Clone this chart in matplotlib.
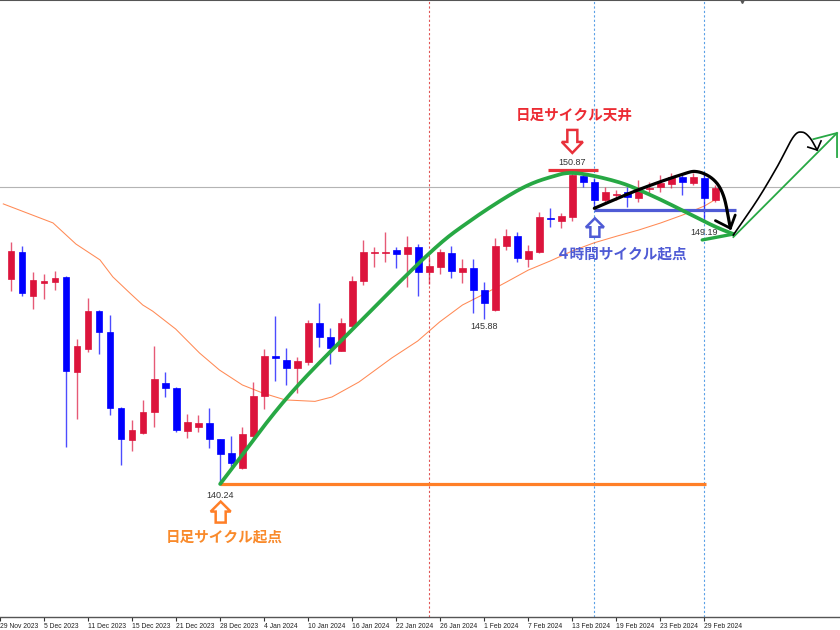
import numpy as np
import matplotlib
matplotlib.use("Agg")
import matplotlib.pyplot as plt
from matplotlib.patches import Polygon
from matplotlib import transforms as mtransforms

# ---------------- data ----------------
tick_labels = ["29 Nov 2023", "5 Dec 2023", "11 Dec 2023", "15 Dec 2023", "21 Dec 2023",
               "28 Dec 2023", "4 Jan 2024", "10 Jan 2024", "16 Jan 2024", "22 Jan 2024",
               "26 Jan 2024", "1 Feb 2024", "7 Feb 2024", "13 Feb 2024", "19 Feb 2024",
               "23 Feb 2024", "29 Feb 2024"]

opens = [147.24, 148.16, 146.66, 147.11, 147.13, 147.32, 144.05, 144.85, 146.14, 145.43,
         142.82, 141.74, 141.98, 142.69, 143.68, 143.52, 142.06, 142.19, 142.33, 141.77,
         141.29, 140.78, 141.89, 143.24, 144.61, 144.47, 144.19, 144.41, 145.72, 145.25,
         144.79, 145.63, 147.18, 148.13, 148.12, 148.22, 148.08, 148.32, 147.49, 147.66,
         148.11, 147.49, 147.60, 146.86, 146.18, 148.36, 148.72, 147.92, 148.15, 149.33,
         149.23, 149.36, 150.75, 150.56, 149.93, 150.09, 150.22, 149.99, 150.30, 150.37,
         150.48, 150.73, 150.50, 150.70, 149.93]
highs = [148.51, 148.36, 147.47, 147.40, 147.51, 147.34, 145.20, 146.59, 146.17, 146.00,
         142.88, 142.42, 143.11, 144.95, 144.06, 143.54, 142.62, 142.59, 142.82, 141.78,
         141.88, 142.18, 143.73, 144.84, 145.97, 144.89, 144.57, 145.84, 146.43, 145.55,
         145.92, 147.34, 148.57, 148.34, 148.84, 148.33, 148.72, 148.42, 148.00, 148.25,
         148.38, 147.93, 147.91, 147.13, 148.63, 148.93, 148.84, 148.40, 149.53, 149.65,
         149.50, 150.87, 150.85, 150.67, 150.37, 150.27, 150.37, 150.62, 150.56, 150.79,
         150.84, 150.80, 150.84, 150.82, 150.44]
lows = [146.83, 146.66, 146.22, 146.55, 146.87, 141.51, 142.45, 144.76, 144.68, 142.58,
        140.89, 141.37, 141.95, 142.18, 143.22, 142.00, 141.80, 142.02, 141.48, 140.24,
        140.83, 140.76, 141.74, 142.80, 143.77, 143.62, 143.34, 144.30, 144.91, 144.33,
        144.77, 145.55, 147.03, 147.66, 147.83, 147.61, 146.98, 146.64, 147.07, 147.40,
        147.26, 147.11, 146.08, 145.88, 146.16, 148.23, 147.83, 147.66, 148.11, 149.02,
        148.97, 149.23, 150.37, 149.66, 149.87, 149.93, 149.70, 149.87, 150.10, 150.22,
        150.33, 150.10, 150.44, 149.19, 149.87]
closes = [148.19, 146.77, 147.19, 147.16, 147.28, 144.10, 144.94, 146.14, 145.42, 142.82,
          141.79, 142.08, 142.70, 143.81, 143.51, 142.08, 142.36, 142.33, 141.77, 141.26,
          140.95, 141.94, 143.25, 144.61, 144.54, 144.19, 144.44, 145.75, 145.25, 144.87,
          145.72, 147.18, 148.17, 148.17, 148.16, 148.08, 148.32, 147.49, 147.68, 148.15,
          147.50, 147.61, 146.86, 146.42, 148.35, 148.69, 147.94, 148.19, 149.34, 149.29,
          149.39, 150.80, 150.56, 149.93, 150.22, 150.12, 150.05, 150.25, 150.35, 150.50,
          150.73, 150.54, 150.72, 149.99, 150.36]

ma_bars = [0.30, 4.82, 6.90, 9.08, 10.25, 11.79, 12.97, 13.87, 15.96, 18.13, 19.94, 22.02,
           23.83, 25.91, 28.62, 30.16, 32.61, 35.59, 37.95, 39.94, 42.02, 44.01, 46.0,
           47.99, 49.98, 51.97, 53.96, 56.04, 58.04, 60.03, 62.02, 64.01, 65.09]
ma_vals = [149.80, 149.15, 148.43, 147.89, 147.31, 146.76, 146.35, 146.14, 145.53, 144.71,
           144.13, 143.62, 143.35, 143.11, 143.06, 143.21, 143.72, 144.54, 145.12, 145.77,
           146.35, 146.73, 147.13, 147.54, 147.85, 148.19, 148.47, 148.70, 148.91, 149.15,
           149.42, 149.73, 149.97]

current_price = 150.37
daily_start = 140.24
daily_top = 150.87
low_feb1 = 145.88
low_feb29 = 149.19
h4_start = 149.59

# annotation curves (bar, price)
arc_bars = [20.0, 25.91, 31.97, 38.94, 42.56, 47.09, 50.07, 52.33, 56.14, 59.12, 62.11, 64.83, 66.63]
arc_vals = [140.24, 143.11, 145.50, 148.09, 149.18, 150.27, 150.72, 150.85, 150.55, 150.10, 149.56, 149.05, 148.77]
black_bars = [54.0, 57.92, 61.84, 63.35, 64.85, 65.76, 66.36]
black_vals = [149.65, 150.27, 150.79, 150.90, 150.62, 150.05, 148.97]
thin_bars = [66.63, 68.8, 70.6, 72.07, 72.88, 73.6, 74.24]
thin_vals = [148.74, 149.93, 151.06, 152.08, 152.25, 152.05, 151.64]

RED = "#DC143C"
BLUE = "#0000FF"
ORANGE = "#FF7F27"
GREEN = "#27A844"
IND = "#4F5BD5"
TXTRED = "#EC2B33"

plt.rcParams['font.family'] = ['Noto Sans CJK JP', 'DejaVu Sans']


def catmull(xs, ys, n=24):
    P = np.column_stack([xs, ys]).astype(float)
    P = np.vstack([P[0] - (P[1] - P[0]), P, P[-1] + (P[-1] - P[-2])])
    out = []
    for i in range(1, len(P) - 2):
        p0, p1, p2, p3 = P[i - 1], P[i], P[i + 1], P[i + 2]
        t = np.linspace(0, 1, n, endpoint=(i == len(P) - 3))[:, None]
        seg = 0.5 * ((2 * p1) + (-p0 + p2) * t + (2 * p0 - 5 * p1 + 4 * p2 - p3) * t ** 2
                     + (-p0 + 3 * p1 - 3 * p2 + p3) * t ** 3)
        out.append(seg)
    out = np.vstack(out)
    return out[:, 0], out[:, 1]


fig = plt.figure(figsize=(8.4, 6.3), dpi=100)
ax = fig.add_axes([0, 13 / 630, 1, 617 / 630])
ax.set_xlim(0.30, 76.32)
ax.set_ylim(135.70, 156.76)

x = np.arange(1, len(opens) + 1)
o = np.array(opens); h = np.array(highs); l = np.array(lows); c = np.array(closes)
cols = [RED if cc >= oo else BLUE for oo, cc in zip(o, c)]

# vertical separators
ax.axvline(39, color="#E05555", lw=0.8, ls=(0, (2, 2)), zorder=1)
for b in (54, 64):
    ax.axvline(b, color="#5AA0E6", lw=0.8, ls=(0, (2, 2)), zorder=1)

# current price line
ax.axhline(current_price, color="#B4B4B4", lw=0.8, zorder=1)

# MA
ax.plot(ma_bars, ma_vals, color="#FF8A55", lw=0.75, zorder=2)

# candles
ax.vlines(x, l, h, colors=cols, lw=1.0, alpha=0.7, zorder=3)
heights = np.maximum(np.abs(c - o), 0.035)
bottoms = np.minimum(o, c)
ax.bar(x, heights, bottom=bottoms, width=0.62, color=cols, edgecolor=cols, linewidth=0.5, zorder=4)

# horizontal annotation lines
ax.plot([20, 64.1], [daily_start, daily_start], color=ORANGE, lw=2.3, solid_capstyle='butt', zorder=5)
ax.plot([49.8, 54.3], [150.96, 150.96], color="#E8303A", lw=2.3, solid_capstyle='butt', zorder=5)
ax.plot([54.0, 66.9], [h4_start, h4_start], color=IND, lw=2.3, solid_capstyle='butt', zorder=5)

# green arc
gx, gy = catmull(arc_bars, arc_vals)
ax.plot(gx, gy, color=GREEN, lw=2.7, solid_capstyle='round', zorder=6)
ax.plot([63.8, 66.63], [148.57, 148.77], color=GREEN, lw=2.4, solid_capstyle='round', zorder=6)

# black thick curve
bx, by = catmull(black_bars, black_vals)
ax.plot(bx, by, color="black", lw=2.3, solid_capstyle='round', zorder=7)
ax.plot([65.0, 66.36, 66.8], [149.23, 148.97, 149.42], color="black", lw=2.0, solid_capstyle='round', zorder=7)

# thin green line and arrowhead
ax.plot([66.63, 76.05], [148.67, 152.22], color=GREEN, lw=1.3, zorder=6)
ax.plot([73.9, 76.05, 76.05], [152.01, 152.22, 151.40], color=GREEN, lw=1.3, zorder=6)

# thin black curve
tx, ty = catmull(thin_bars, thin_vals)
ax.plot(tx, ty, color="black", lw=1.2, zorder=7)
ax.plot([73.4, 74.24, 74.6], [151.74, 151.64, 151.95], color="black", lw=1.2, zorder=7)


def block_arrow(xd, yd, up, color, hw, hh, sw, total, lw=1.8):
    s = 1 if up else -1
    verts = [(0, 0), (hw, -s * hh), (sw, -s * hh), (sw, -s * total),
             (-sw, -s * total), (-sw, -s * hh), (-hw, -s * hh)]
    tr = (mtransforms.Affine2D().scale(0.01) + fig.dpi_scale_trans
          + mtransforms.ScaledTranslation(xd, yd, ax.transData))
    p = Polygon(verts, closed=True, facecolor="white", edgecolor=color, lw=lw,
                joinstyle='miter', transform=tr, zorder=8)
    ax.add_patch(p)


block_arrow(20.05, 139.64, True, ORANGE, 10, 10, 5, 21)
block_arrow(52.0, 151.54, False, "#E8303A", 10.5, 11, 5, 23)
block_arrow(54.05, 149.31, True, IND, 9, 9, 4.5, 18.5)

# texts
ax.text(20.36, 138.44, "日足サイクル起点", color="#F98A2B", fontsize=10.5, fontweight='bold',
        ha='center', va='center', zorder=9)
ax.text(52.18, 152.83, "日足サイクル天井", color=TXTRED, fontsize=10.5, fontweight='bold',
        ha='center', va='center', zorder=9)
ax.text(56.5, 148.11, "４時間サイクル起点", color=IND, fontsize=10.5, fontweight='bold',
        ha='center', va='center', zorder=9)

lab_kw = dict(fontsize=6.5, color="#333333", ha='center', va='center', family='Liberation Sans', zorder=9)
ax.text(19.98, 139.86, f"{daily_start:.2f}", **lab_kw)
ax.text(52.02, 151.20, f"{daily_top:.2f}", **lab_kw)
ax.text(44.0, 145.60, f"{low_feb1:.2f}", **lab_kw)
ax.text(64.0, 148.84, f"{low_feb29:.2f}", **lab_kw)

# shift marker at top
ax.plot([67.4], [1.0], marker='v', ms=5, color="#555555", transform=ax.get_xaxis_transform(),
        clip_on=False, zorder=9)

# axes styling
for side in ("left", "right"):
    ax.spines[side].set_visible(False)
ax.spines["top"].set_color("#555555")
ax.spines["top"].set_linewidth(1.5)
ax.spines["bottom"].set_color("#555555")
ax.spines["bottom"].set_linewidth(1.0)
ax.set_yticks([])
ax.set_xticks(np.arange(0, 4 * len(tick_labels), 4))
ax.set_xticklabels(tick_labels, ha='left', fontsize=4.9, family='Liberation Sans', color='#222222')
ax.tick_params(axis='x', direction='out', length=3, width=0.8, pad=1.2, colors='#333333',
               labelcolor='#222222')

fig.savefig("out.png", dpi=100)
